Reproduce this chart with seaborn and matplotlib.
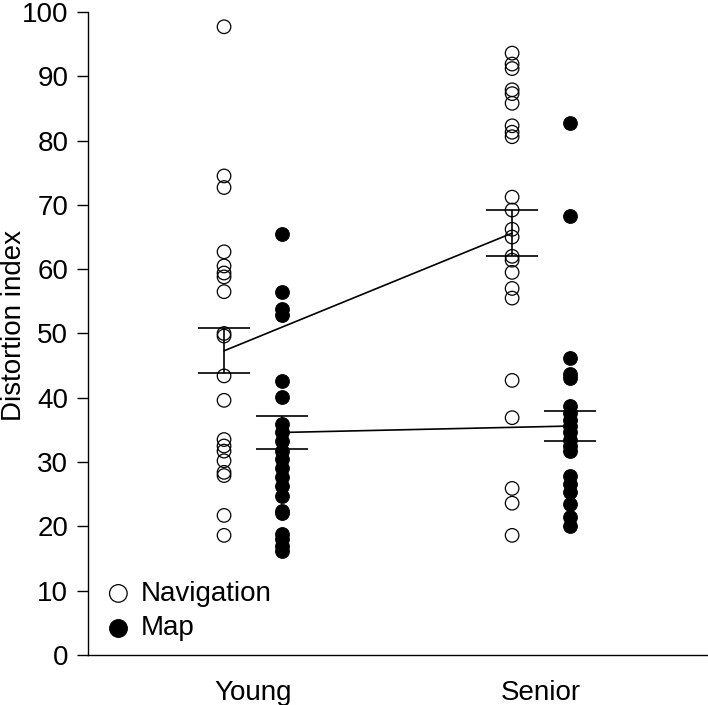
import numpy as np
import pandas as pd
import seaborn as sns
import matplotlib.pyplot as plt

groups = ['Young', 'Senior']
conditions = ['Navigation', 'Map']

young_nav = [97.7, 74.5, 72.7, 62.7, 60.5, 59.4, 58.8, 56.5, 50.0, 49.6,
             43.4, 39.6, 33.5, 32.5, 31.7, 30.2, 28.4, 27.9, 21.7, 18.6]
young_map = [65.4, 56.4, 53.8, 52.8, 42.6, 40.1, 35.9, 34.6, 33.3, 31.7, 30.4,
             29.1, 27.6, 26.2, 24.7, 22.4, 22.0, 18.8, 18.0, 17.0, 16.2]
senior_nav = [93.6, 91.9, 91.2, 87.9, 87.3, 85.8, 82.3, 81.3, 80.6, 71.2, 69.2,
              66.2, 65.0, 62.0, 61.4, 59.5, 57.0, 55.5, 42.7, 36.9, 25.9, 23.6, 18.6]
senior_map = [82.8, 68.2, 46.2, 43.7, 43.0, 38.7, 37.7, 36.6, 35.6, 34.6, 33.5,
              32.5, 31.7, 27.8, 26.6, 25.3, 23.4, 21.4, 20.1]

# group means and error half-widths
nav_mean = [47.3, 65.6]
nav_err = [3.5, 3.6]
map_mean = [34.6, 35.6]
map_err = [2.6, 2.3]

offset = {'Navigation': -0.1, 'Map': 0.1}

rows = []
for g, cond, vals in [('Young', 'Navigation', young_nav), ('Young', 'Map', young_map),
                      ('Senior', 'Navigation', senior_nav), ('Senior', 'Map', senior_map)]:
    for v in vals:
        rows.append({'group': g, 'condition': cond, 'value': v,
                     'xpos': groups.index(g) + offset[cond]})
df = pd.DataFrame(rows)

sns.set_style('ticks')
plt.rcParams['font.family'] = ['Liberation Sans', 'DejaVu Sans']
plt.rcParams['font.size'] = 20
for k in ['text.color', 'axes.labelcolor', 'xtick.color', 'ytick.color', 'axes.edgecolor']:
    plt.rcParams[k] = 'black'

fig = plt.figure(figsize=(7.08, 7.05), dpi=100)
ax = fig.add_axes([0.124, 0.071, 0.876, 0.912])

# means + error bars
xg = np.arange(len(groups))
ax.plot(xg + offset['Navigation'], nav_mean, color='black', lw=1.2, zorder=4)
ax.plot(xg + offset['Map'], map_mean, color='black', lw=1.2, zorder=4)
ax.errorbar(xg + offset['Navigation'], nav_mean, yerr=nav_err, fmt='none',
            ecolor='black', elinewidth=1.2, capsize=19, capthick=1.2, zorder=4)
ax.errorbar(xg + offset['Map'], map_mean, yerr=map_err, fmt='none',
            ecolor='black', elinewidth=1.2, capsize=19, capthick=1.2, zorder=4)

sns.scatterplot(data=df[df.condition == 'Navigation'], x='xpos', y='value',
                color='none', edgecolor='black', linewidth=0.9, s=95,
                label='Navigation', ax=ax, zorder=3)
sns.scatterplot(data=df[df.condition == 'Map'], x='xpos', y='value',
                color='black', edgecolor='black', linewidth=0.9, s=95,
                label='Map', ax=ax, zorder=3)

ax.set_xlim(-0.573, 1.580)
ax.set_ylim(0, 100)
ax.set_yticks(np.arange(0, 101, 10))
ax.set_xticks(xg)
ax.set_xticklabels(groups)
ax.tick_params(axis='x', length=0, pad=18, labelsize=20)
ax.tick_params(axis='y', length=8, width=1, pad=6, labelsize=20, direction='out')
ax.set_xlabel('')
ax.set_ylabel('Distortion index', fontsize=20, va='center')
ax.yaxis.set_label_coords(-0.119, 0.512)
sns.despine(ax=ax, right=True, top=True)
for sp in ['left', 'bottom']:
    ax.spines[sp].set_linewidth(1.0)
    ax.spines[sp].set_color('black')

ax.legend(loc='lower left', frameon=False, fontsize=20, handletextpad=0.2,
          handlelength=1.2, labelspacing=0.3, borderaxespad=0.1,
          markerscale=1.3, bbox_to_anchor=(0.0, 0.0))

fig.savefig('out.png', dpi=100)
